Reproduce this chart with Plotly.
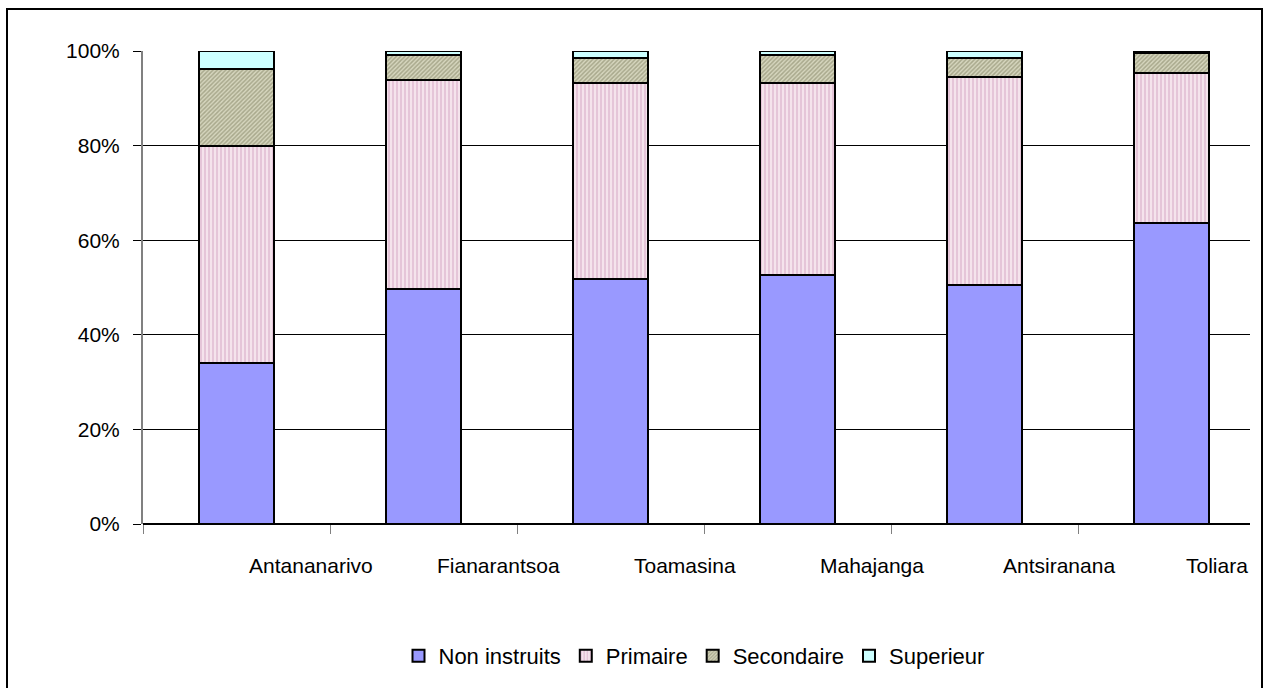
import plotly.graph_objects as go

regions = ["Antananarivo", "Fianarantsoa", "Toamasina", "Mahajanga", "Antsiranana", "Toliara"]
non_instruits = [34.1, 49.6, 51.8, 52.7, 50.5, 63.6]
primaire = [45.9, 44.3, 41.4, 40.5, 43.9, 31.8]
secondaire = [16.2, 5.3, 5.4, 6.0, 4.2, 4.1]
superieur = [3.8, 0.8, 1.4, 0.8, 1.4, 0.5]
y_ticks = [0, 20, 40, 60, 80, 100]
y_tick_labels = ["0%", "20%", "40%", "60%", "80%", "100%"]

FONT = "Liberation Sans, Arial, sans-serif"
FS = 21
W, H = 1267, 688
L, R, T, B = 143, 17, 51, 163
plot_w = W - L - R
plot_h = H - T - B
cat_px = 187.0
idx = list(range(len(regions)))

series = [
    ("Non instruits", non_instruits, dict(color="#9999FF")),
    ("Primaire", primaire, dict(color="#FFFFFF", pattern=dict(shape="|", fgcolor="#CF9BBB", bgcolor="#FBEEF5", size=4, solidity=0.65))),
    ("Secondaire", secondaire, dict(color="#FFFFFF", pattern=dict(shape="/", fgcolor="#7A7A5A", bgcolor="#D6D6BE", size=3, solidity=0.5))),
    ("Superieur", superieur, dict(color="#CCFFFF")),
]

fig = go.Figure()
for name, vals, marker in series:
    m = dict(marker)
    m["line"] = dict(color="black", width=2)
    fig.add_trace(go.Bar(x=idx, y=vals, name=name, width=0.4, marker=m))

x_max = -0.5 + plot_w / cat_px
fig.update_layout(
    barmode="stack",
    width=W, height=H, autosize=False,
    margin=dict(l=L, r=R, t=T, b=B, pad=0),
    paper_bgcolor="white", plot_bgcolor="white",
    font=dict(family=FONT, size=FS, color="black"),
    showlegend=True,
    legend=dict(orientation="h", x=(694 - L) / plot_w, xanchor="center",
                y=(H - B - 656) / plot_h, yanchor="middle",
                font=dict(size=22), traceorder="normal",
                itemwidth=30, tracegroupgap=0, bgcolor="rgba(0,0,0,0)"),
    xaxis=dict(range=[-0.5, x_max], tickvals=[i - 0.5 for i in range(len(regions) + 1)],
               ticktext=["" for _ in range(len(regions) + 1)],
               ticks="outside", ticklen=9, tickcolor="#808080", tickwidth=1,
               showgrid=False, zeroline=False, showline=False, fixedrange=True),
    yaxis=dict(range=[0, 100], tickvals=y_ticks, ticktext=y_tick_labels,
               ticks="outside", ticklen=8, tickcolor="black", tickwidth=1,
               ticklabelstandoff=9,
               showgrid=True, gridcolor="black", gridwidth=1,
               showline=True, linecolor="#808080", linewidth=2,
               zeroline=True, zerolinecolor="black", zerolinewidth=1.5,
               tickfont=dict(size=FS), fixedrange=True),
)

# category labels, offset right of each bar as in the original, kept inside the plot area
for i, name in enumerate(regions):
    last = i == len(regions) - 1
    fig.add_annotation(x=(x_max if last else i + 0.4), xref="x",
                       y=(H - B - 567) / plot_h, yref="paper",
                       text=name, showarrow=False,
                       xanchor=("right" if last else "center"), yanchor="middle",
                       font=dict(size=FS, family=FONT, color="black"))

# outer chart frame
fig.add_shape(type="rect", xref="paper", yref="paper",
              x0=(7 - L) / plot_w, x1=(1262 - L) / plot_w,
              y0=(H - B - 720) / plot_h, y1=(H - B - 9) / plot_h,
              line=dict(color="black", width=2), fillcolor="rgba(0,0,0,0)", layer="below")

fig.write_html("out.html", config={"displayModeBar": False},
               post_script="document.body.style.margin='0';document.body.style.overflow='hidden';")
